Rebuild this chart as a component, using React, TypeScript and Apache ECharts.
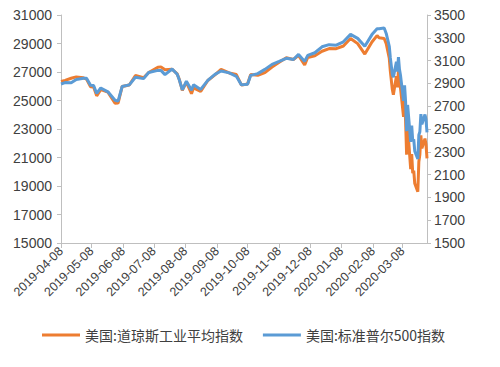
import React, { useEffect, useRef } from "react";
import * as echarts from "echarts";

const dates: string[] = [
  "2019-04-08","2019-04-12","2019-04-18","2019-04-23","2019-04-30","2019-05-03","2019-05-07","2019-05-10",
  "2019-05-13","2019-05-17","2019-05-24","2019-05-31","2019-06-03","2019-06-07","2019-06-14","2019-06-20",
  "2019-06-28","2019-07-03","2019-07-12","2019-07-15","2019-07-19","2019-07-26","2019-07-31","2019-08-02",
  "2019-08-05","2019-08-09","2019-08-14","2019-08-16","2019-08-23","2019-08-30","2019-09-06","2019-09-12",
  "2019-09-20","2019-09-27","2019-10-02","2019-10-08","2019-10-11","2019-10-18","2019-10-25","2019-11-01",
  "2019-11-08","2019-11-15","2019-11-22","2019-11-27","2019-12-03","2019-12-06","2019-12-13","2019-12-20",
  "2019-12-27","2020-01-03","2020-01-10","2020-01-17","2020-01-24","2020-01-31","2020-02-07","2020-02-12",
  "2020-02-14","2020-02-19","2020-02-21","2020-02-24","2020-02-25","2020-02-27","2020-02-28","2020-03-02",
  "2020-03-03","2020-03-04","2020-03-05","2020-03-06","2020-03-09","2020-03-10","2020-03-11","2020-03-12",
  "2020-03-13","2020-03-16","2020-03-17","2020-03-18","2020-03-19","2020-03-20","2020-03-23","2020-03-24",
  "2020-03-25","2020-03-26","2020-03-27","2020-03-30","2020-03-31","2020-04-01"
];

const dowValues: number[] = [
  26341,26412,26559,26656,26593,26505,25965,25942,
  25325,25764,25586,24815,24820,25984,26090,26753,
  26600,26966,27332,27359,27154,27192,26864,26485,
  25718,26287,25479,25886,25629,26403,26797,27182,
  26935,26820,26078,26164,26817,26770,26958,27347,
  27681,28005,27876,28164,27502,28015,28135,28455,
  28645,28634,28823,29348,28990,28256,29103,29551,
  29398,29348,28992,27961,27081,25767,25409,26703,
  25917,27091,26121,25865,23851,25018,23553,21200,
  23186,20189,21237,19899,20087,19174,18592,20705,
  21200,22552,21637,22327,21917,20943
];

const spxValues: number[] = [
  2895,2907,2905,2934,2946,2946,2884,2881,
  2812,2860,2826,2752,2744,2873,2887,2954,
  2942,2996,3014,3014,2977,3026,2980,2932,
  2844,2919,2840,2889,2847,2926,2979,3009,
  2992,2962,2887,2893,2970,2986,3023,3067,
  3093,3120,3110,3154,3093,3146,3169,3221,
  3240,3235,3265,3330,3295,3226,3328,3379,
  3380,3386,3338,3226,3128,2979,2954,3090,
  3003,3130,3024,2972,2747,2882,2741,2481,
  2711,2386,2529,2398,2409,2305,2237,2447,
  2476,2630,2541,2627,2585,2471
];

const tickDates: string[] = [
  "2019-04-08","2019-05-08","2019-06-08","2019-07-08","2019-08-08","2019-09-08",
  "2019-10-08","2019-11-08","2019-12-08","2020-01-08","2020-02-08","2020-03-08"
];

const seriesNames = ["美国:道琼斯工业平均指数", "美国:标准普尔500指数"];

const DAY = 86400000;
function utc(s: string): number {
  const [y, m, d] = s.split("-").map(Number);
  return Date.UTC(y, m - 1, d);
}
const base = utc(dates[0]);
function dayIdx(s: string): number { return Math.round((utc(s) - base) / DAY); }
function pad(n: number) { return n < 10 ? "0" + n : "" + n; }
function fmt(v: number): string {
  const d = new Date(base + Math.round(v) * DAY);
  return d.getUTCFullYear() + "-" + pad(d.getUTCMonth() + 1) + "-" + pad(d.getUTCDate());
}

export default function App() {
  const ref = useRef<HTMLDivElement>(null);
  useEffect(() => {
    if (!ref.current) return;
    const chart = echarts.init(ref.current, undefined, { renderer: "svg" });
    const tickVals = tickDates.map(dayIdx);
    const font = "'Liberation Sans', Arial, sans-serif";
    const axisColor = "#BFBFBF";
    chart.setOption({
      animation: false,
      textStyle: { fontFamily: font },
      grid: { left: 61, right: 73, top: 15, bottom: 124 },
      legend: {
        bottom: 20,
        left: 37,
        itemWidth: 38,
        itemHeight: 3,
        itemGap: 20,
        icon: "rect",
        textStyle: { fontSize: 14, color: "#404040", fontFamily: "'Noto Sans CJK SC', sans-serif" },
        data: seriesNames,
      },
      xAxis: {
        type: "value",
        min: 0,
        max: dayIdx(dates[dates.length - 1]),
        axisLine: { show: true, onZero: false, lineStyle: { color: axisColor, width: 1 } },
        axisTick: { show: true, customValues: tickVals, length: 5, lineStyle: { color: axisColor } },
        axisLabel: {
          customValues: tickVals,
          rotate: 45,
          interval: 0,
          hideOverlap: false,
          fontSize: 12.5,
          color: "#404040",
          margin: 6,
          showMinLabel: true,
          showMaxLabel: true,
          formatter: (v: number) => fmt(v),
        },
        splitLine: { show: false },
      },
      yAxis: [
        {
          type: "value",
          min: 15000,
          max: 31000,
          interval: 2000,
          axisLine: { show: true, lineStyle: { color: axisColor } },
          axisTick: { show: true, length: 4, lineStyle: { color: axisColor } },
          axisLabel: { fontSize: 14, color: "#404040", margin: 9, formatter: (v: number) => String(v) },
          splitLine: { show: false },
        },
        {
          type: "value",
          min: 1500,
          max: 3500,
          interval: 200,
          axisLine: { show: true, lineStyle: { color: axisColor } },
          axisTick: { show: true, length: 4, lineStyle: { color: axisColor } },
          axisLabel: { fontSize: 14, color: "#404040", margin: 7, formatter: (v: number) => String(v) },
          splitLine: { show: false },
        },
      ],
      series: [
        {
          name: seriesNames[0],
          type: "line",
          yAxisIndex: 0,
          showSymbol: false,
          symbol: "none",
          lineStyle: { color: "#ED7D31", width: 3 },
          itemStyle: { color: "#ED7D31" },
          data: dates.map((d, i) => [dayIdx(d), dowValues[i]]),
        },
        {
          name: seriesNames[1],
          type: "line",
          yAxisIndex: 1,
          showSymbol: false,
          symbol: "none",
          lineStyle: { color: "#5B9BD5", width: 3 },
          itemStyle: { color: "#5B9BD5" },
          data: dates.map((d, i) => [dayIdx(d), spxValues[i]]),
        },
      ],
    });
    return () => chart.dispose();
  }, []);
  return <div ref={ref} style={{ width: 500, height: 367, position: "absolute", left: 0, top: 0 }} />;
}
